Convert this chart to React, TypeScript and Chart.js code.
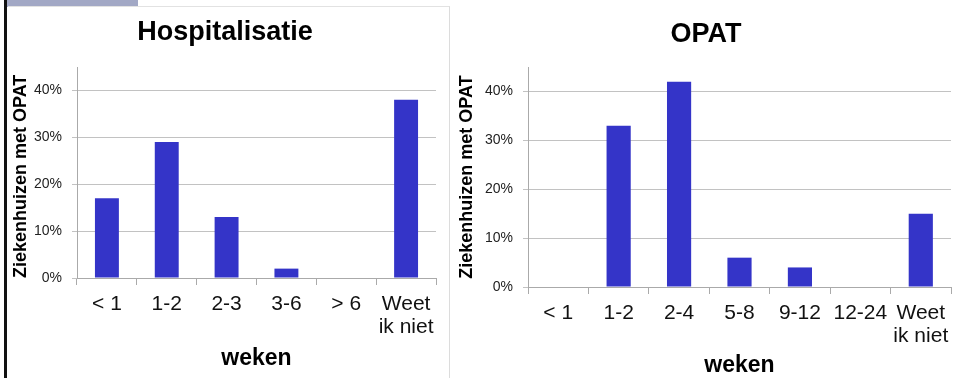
import React, { useEffect, useRef } from 'react';
import { Chart, registerables } from 'chart.js';

Chart.register(...registerables);

const FONT = "'Liberation Sans', Arial, Helvetica, sans-serif";
Chart.defaults.font.family = FONT;

// ---- data ----
const hospCategories: (string | string[])[] = ['< 1', '1-2', '2-3', '3-6', '> 6', ['Weet', 'ik niet']];
const hospValues = [17, 29, 13, 2, 0, 38];

const opatCategories: (string | string[])[] = ['< 1', '1-2', '2-4', '5-8', '9-12', '12-24', ['Weet', 'ik niet']];
const opatValues = [0, 33, 42, 6, 4, 0, 15];

const yAxisMin = 0;
const yAxisMax = 45;
const yTickStep = 10;
const yAxisTitle = 'Ziekenhuizen met OPAT';
const xAxisTitle = 'weken';
const hospTitle = 'Hospitalisatie';
const opatTitle = 'OPAT';

const BAR_COLOR = '#3434C8';
const GRID_COLOR = '#c2c2c2';
const AXIS_COLOR = '#aaaaaa';

type Spec = {
  labels: (string | string[])[];
  values: number[];
  title: string;
  left: number;
  top: number;
  width: number;
  height: number;
  padLeft: number;
  padRight: number;
  yWidth: number;
  xHeight: number;
  titlePadTop: number;
  titlePadBottom: number;
  yTitlePad: number;
  yTitleAlign: 'start' | 'center' | 'end';
  xTitlePadBottom: number;
};

function makeConfig(s: Spec): any {
  return {
    type: 'bar',
    data: {
      labels: s.labels,
      datasets: [
        {
          data: s.values,
          backgroundColor: BAR_COLOR,
          borderWidth: 0,
          barPercentage: 0.4,
          categoryPercentage: 1.0,
        },
      ],
    },
    options: {
      responsive: false,
      maintainAspectRatio: false,
      animation: false,
      layout: { padding: { left: s.padLeft, right: s.padRight, top: 0, bottom: 0 } },
      plugins: {
        legend: { display: false },
        tooltip: { enabled: false },
        title: {
          display: true,
          text: s.title,
          color: '#000',
          font: { family: FONT, size: 27, weight: 'bold', lineHeight: 1.2 },
          padding: { top: s.titlePadTop, bottom: s.titlePadBottom },
        },
      },
      scales: {
        x: {
          type: 'category',
          grid: {
            offset: true,
            drawOnChartArea: false,
            drawTicks: true,
            tickLength: 7,
            color: AXIS_COLOR,
          },
          border: { display: true, color: AXIS_COLOR, width: 1 },
          ticks: {
            color: '#111',
            font: { family: FONT, size: 21, lineHeight: 1.1 },
            padding: 8,
            maxRotation: 0,
            minRotation: 0,
            autoSkip: false,
          },
          title: {
            display: true,
            text: xAxisTitle,
            color: '#000',
            font: { family: FONT, size: 23, weight: 'bold', lineHeight: 1 },
            padding: { top: 0, bottom: s.xTitlePadBottom },
          },
          afterFit: (scale: any) => {
            scale.height = s.xHeight;
            scale.paddingLeft = 0;
            scale.paddingRight = 0;
          },
        },
        y: {
          type: 'linear',
          min: yAxisMin,
          max: yAxisMax,
          bounds: 'data',
          grid: { color: GRID_COLOR, tickLength: 5, drawTicks: true },
          border: { display: true, color: AXIS_COLOR, width: 1 },
          ticks: {
            stepSize: yTickStep,
            includeBounds: false,
            color: '#222',
            font: { family: FONT, size: 14 },
            padding: 10,
            callback: (v: any) => `${v}%`,
          },
          title: {
            display: true,
            text: yAxisTitle,
            align: s.yTitleAlign,
            color: '#000',
            font: { family: FONT, size: 18, weight: 'bold', lineHeight: 0.5 },
            padding: { top: s.yTitlePad, bottom: 0 },
          },
          afterBuildTicks: (scale: any) => {
            scale.ticks = scale.ticks.filter((t: any) => t.value % yTickStep === 0);
          },
          afterFit: (scale: any) => {
            scale.width = s.yWidth;
            scale.paddingTop = 0;
            scale.paddingBottom = 0;
          },
        },
      },
    },
  };
}

function BarPanel({ spec }: { spec: Spec }) {
  const ref = useRef<HTMLCanvasElement | null>(null);
  useEffect(() => {
    if (!ref.current) return;
    const chart = new Chart(ref.current, makeConfig(spec));
    return () => chart.destroy();
  }, [spec]);
  return (
    <canvas
      ref={ref}
      width={spec.width}
      height={spec.height}
      style={{
        position: 'absolute',
        left: spec.left,
        top: spec.top,
        width: spec.width,
        height: spec.height,
        display: 'block',
      }}
    />
  );
}

const leftSpec: Spec = {
  labels: hospCategories,
  values: hospValues,
  title: hospTitle,
  left: 8,
  top: 6,
  width: 441,
  height: 372,
  padLeft: 6,
  padRight: 13,
  yWidth: 63,
  xHeight: 100,
  titlePadTop: 10.8,
  titlePadBottom: 17.8,
  yTitlePad: 2.5,
  yTitleAlign: 'start',
  xTitlePadBottom: 8,
};

const rightSpec: Spec = {
  labels: opatCategories,
  values: opatValues,
  title: opatTitle,
  left: 451,
  top: 6,
  width: 503,
  height: 372,
  padLeft: 10,
  padRight: 3,
  yWidth: 67,
  xHeight: 91,
  titlePadTop: 12.5,
  titlePadBottom: 16.1,
  yTitlePad: 2,
  yTitleAlign: 'center',
  xTitlePadBottom: 1.2,
};

export default function App() {
  return (
    <div
      style={{
        position: 'absolute',
        left: 0,
        top: 0,
        width: 954,
        height: 378,
        background: '#ffffff',
        overflow: 'hidden',
      }}
    >
      {/* top-left slide accent */}
      <div style={{ position: 'absolute', left: 7, top: 0, width: 131, height: 7, background: '#a2a8c5' }} />
      {/* left black rule */}
      <div style={{ position: 'absolute', left: 4, top: 0, width: 3, height: 378, background: '#111' }} />
      {/* left panel frame */}
      <div
        style={{
          position: 'absolute',
          left: 8,
          top: 6,
          width: 442,
          height: 372,
          borderTop: '1px solid #e2e2e2',
          borderRight: '1px solid #dcdcdc',
          boxSizing: 'border-box',
        }}
      />
      <BarPanel spec={leftSpec} />
      <BarPanel spec={rightSpec} />
    </div>
  );
}
